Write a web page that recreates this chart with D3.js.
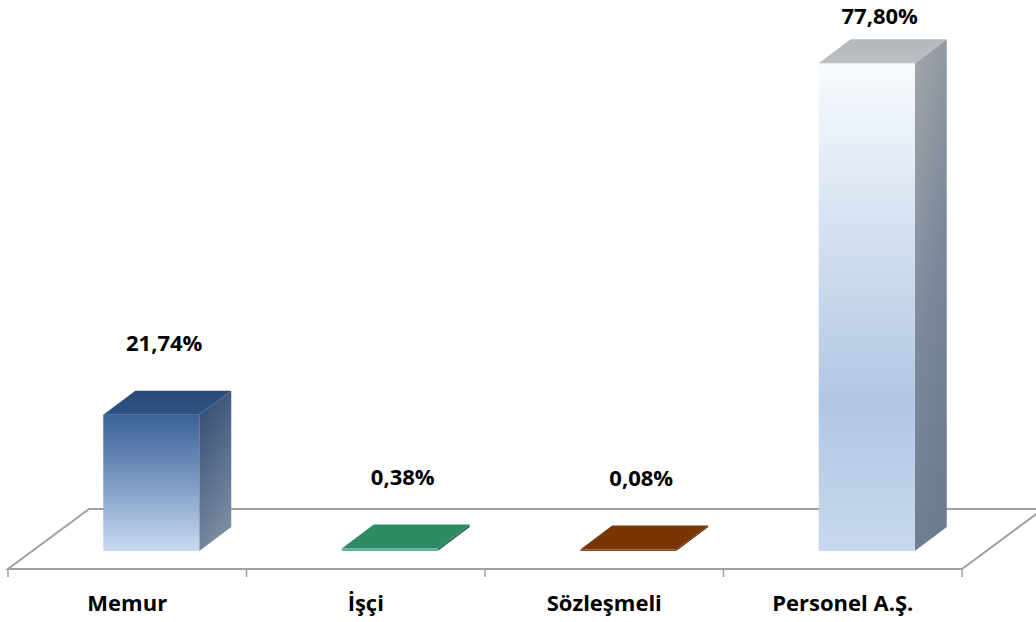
<!DOCTYPE html>
<html>
<head>
<meta charset="utf-8"/>
<script src="https://cdnjs.cloudflare.com/ajax/libs/d3/7.8.5/d3.min.js"></script>
<style>
  body { margin: 0; background: #fff; }
  text { font-family: "Open Sans", Lato, sans-serif; font-weight: bold; fill: #000; }
</style>
</head>
<body>
<script>
const categories = ["Memur", "İşçi", "Sözleşmeli", "Personel A.Ş."];
const values = [21.74, 0.38, 0.08, 77.80];
const valueLabels = ["21,74%", "0,38%", "0,08%", "77,80%"];

const width = 1036, height = 622;
const floorY = 569;          // front edge of floor
const floorDepth = [81, -60]; // back edge offset
const barShift = [24, -18];   // bar front relative to floor front
const barDepth = [32, -24];
const barW = 96;

const svg = d3.select("body").append("svg")
  .attr("width", width).attr("height", height);

const x = d3.scaleBand().domain(categories).range([8, 962]);
const y = d3.scaleLinear().domain([0, 80]).range([floorY + barShift[1], floorY + barShift[1] - 80 * 6.27]);

const defs = svg.append("defs");
function grad(id, stops, x2 = 0, y2 = 1) {
  const g = defs.append("linearGradient").attr("id", id)
    .attr("x1", 0).attr("y1", 0).attr("x2", x2).attr("y2", y2);
  stops.forEach(([o, c]) => g.append("stop").attr("offset", o).attr("stop-color", c));
}
grad("memurFront", [[0, "#3a6196"], [0.5, "#7d9bc4"], [1, "#c9dbf0"]]);
grad("memurSide", [[0, "#2d4870"], [1, "#7a8ba1"]], 0.3, 1);
grad("memurTop", [[0, "#294a77"], [1, "#2f5585"]]);
grad("persFront", [[0, "#f8fbfe"], [0.7, "#b0c6e2"], [1, "#c8d9ee"]]);
grad("persSide", [[0, "#a4a7aa"], [0.6, "#7b889a"], [1, "#6e7c90"]], 0.3, 1);
grad("persTop", [[0, "#b4b8bc"], [1, "#bcc0c3"]]);

const styles = [
  {front: "url(#memurFront)", side: "url(#memurSide)", top: "url(#memurTop)"},
  {front: "#5db4a5", side: "#24704f", top: "#2d8a63"},
  {front: "#8a4a1a", side: "#5e2a05", top: "#783606"},
  {front: "url(#persFront)", side: "url(#persSide)", top: "url(#persTop)"}
];

// floor
const x0 = x.range()[0], x1 = x.range()[1];
const floor = svg.append("g").attr("fill", "none").attr("stroke", "#a0a0a0").attr("stroke-width", 2);
floor.append("path").attr("fill", "#fff")
  .attr("d", `M${x0},${floorY}L${x0 + floorDepth[0]},${floorY + floorDepth[1]}L${x1 + floorDepth[0]},${floorY + floorDepth[1]}L${x1},${floorY}Z`);

// ticks
svg.append("g").attr("stroke", "#a0a0a0").attr("stroke-width", 1.5)
  .selectAll("line").data(categories.map(c => x(c)).concat([x1]))
  .join("line")
  .attr("x1", d => d).attr("x2", d => d)
  .attr("y1", floorY).attr("y2", floorY + 8);

// bars
const bars = svg.append("g").selectAll("g").data(categories).join("g");
bars.each(function(c, i) {
  const g = d3.select(this);
  const left = x(c) + x.bandwidth() / 2 + barShift[0] - barW / 2;
  const right = left + barW;
  const y0 = y(0), y1 = Math.min(y(values[i]), y0 - 1.5);
  const [dx, dy] = barDepth;
  const st = styles[i];
  g.append("path").attr("fill", st.side)
    .attr("d", `M${right},${y1}L${right + dx},${y1 + dy}L${right + dx},${y0 + dy}L${right},${y0}Z`);
  g.append("rect").attr("fill", st.front)
    .attr("x", left).attr("y", y1).attr("width", barW).attr("height", y0 - y1);
  g.append("path").attr("fill", st.top)
    .attr("d", `M${left},${y1}L${left + dx},${y1 + dy}L${right + dx},${y1 + dy}L${right},${y1}Z`);
});

// value labels
svg.append("g").selectAll("text").data(categories).join("text")
  .attr("x", c => x(c) + x.bandwidth() / 2 + 37)
  .attr("y", (c, i) => Math.max(y(values[i]) - 64, 24))
  .attr("text-anchor", "middle")
  .attr("font-size", 22)
  .text((c, i) => valueLabels[i]);

// category labels
svg.append("g").selectAll("text").data(categories).join("text")
  .attr("x", c => x(c) + x.bandwidth() / 2)
  .attr("y", 611)
  .attr("text-anchor", "middle")
  .attr("font-size", 22)
  .text(c => c);
</script>
</body>
</html>
